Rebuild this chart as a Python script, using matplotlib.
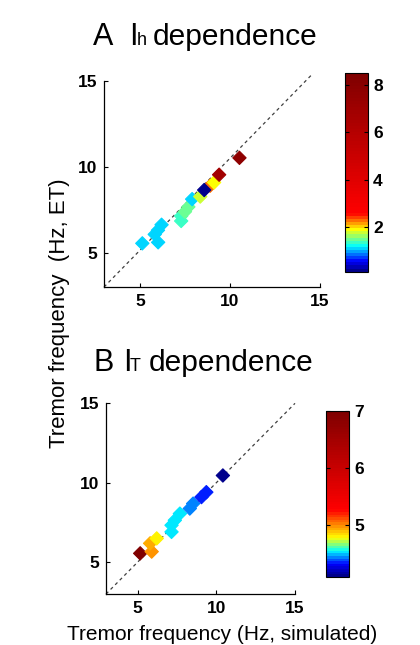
import numpy as np
import matplotlib
matplotlib.use("Agg")
import matplotlib.pyplot as plt
from matplotlib.colors import LinearSegmentedColormap, Normalize

plt.rcParams["font.family"] = ["Liberation Sans", "DejaVu Sans"]

# ─────────────────────────────────────────────
# DATA  (simulated vs ET tremor frequency, Hz)
# ─────────────────────────────────────────────
# A : Ih dependence
ih_sim   = [5.13, 6.01, 5.82, 6.00, 6.20, 7.29, 7.29, 7.50, 7.69, 7.90, 8.35, 8.90, 9.12, 9.40, 8.57, 10.53]
ih_et    = [5.54, 5.60, 6.06, 6.30, 6.62, 6.84, 7.13, 7.38, 7.66, 8.11, 8.26, 8.89, 9.08, 9.53, 8.64, 10.51]
ih_val   = [1.04, 1.04, 1.04, 1.04, 1.04, 1.32, 1.35, 1.42, 1.50, 1.08, 1.70, 2.20, 1.86, 6.80, 0.12, 7.80]
ih_range = [0.1, 8.5]
ih_cticks = [2, 4, 6, 8]

# B : IT dependence
it_sim   = [5.17, 5.90, 5.80, 6.22, 7.16, 7.16, 7.37, 7.69, 8.32, 8.53, 9.06, 9.37, 10.42]
it_et    = [5.56, 5.67, 6.19, 6.50, 6.91, 7.33, 7.64, 8.06, 8.38, 8.69, 9.10, 9.41, 10.46]
it_val   = [7.00, 4.98, 4.95, 4.79, 4.50, 4.50, 4.50, 4.50, 4.41, 4.41, 4.32, 4.32, 4.10]
it_range = [4.09, 7.0]
it_cticks = [5, 6, 7]

# identity reference lines (A's line runs a bit steeper in the original)
diag_a_x = [3, 14.6]
diag_a_y = [3, 15.4]
diag_b_x = [3, 15]
diag_b_y = [3, 15]

ticks = [5, 10, 15]
lims  = [3, 15]

# ─────────────────────────────────────────────
# COLORMAPS  (jet squeezed into the low end, then red -> dark red)
# ─────────────────────────────────────────────
def squeezed_jet(name, nodes):
    cols = [(0, 0, 0.55), (0, 0, 1), (0, 1, 1), (1, 1, 0), (1, 0, 0), (0.5, 0, 0)]
    return LinearSegmentedColormap.from_list(name, list(zip(nodes, cols)), N=64)

cmap_a = squeezed_jet("ih", [0.0, 0.045, 0.124, 0.207, 0.29, 1.0])
cmap_b = squeezed_jet("it", [0.0, 0.07, 0.15, 0.23, 0.40, 1.0])

# ─────────────────────────────────────────────
# FIGURE
# ─────────────────────────────────────────────
fig = plt.figure(figsize=(4.2, 6.45), dpi=100, facecolor="white")

TICK_FONT = dict(fontsize=12.5, fontweight="bold")


def panel(rect, crect, xs, ys, vals, vrange, cmap, cticks, dx, dy):
    ax = fig.add_axes(rect)
    norm = Normalize(vmin=vrange[0], vmax=vrange[1])
    ax.plot(dx, dy, linestyle=(0, (2.6, 2.6)), color="#404040", lw=0.9,
            clip_on=False, zorder=1)
    sc = ax.scatter(xs, ys, c=vals, cmap=cmap, norm=norm, marker="D", s=46,
                    linewidths=0.8, zorder=2)
    sc.set_edgecolors(cmap(norm(np.array(vals))))
    ax.set_xlim(lims)
    ax.set_ylim(lims)
    ax.set_xticks(ticks)
    ax.set_yticks(ticks)
    ax.set_xticklabels([str(t) for t in ticks], **TICK_FONT)
    ax.set_yticklabels([str(t) for t in ticks], **TICK_FONT)
    ax.tick_params(direction="in", length=3, width=0.8, pad=5)
    ax.spines[["top", "right"]].set_visible(False)
    for s in ["left", "bottom"]:
        ax.spines[s].set_linewidth(0.9)

    cax = fig.add_axes(crect)
    cb = fig.colorbar(sc, cax=cax)
    cb.set_ticks(cticks)
    cb.set_ticklabels([str(t) for t in cticks])
    cax.tick_params(direction="in", length=3, width=0.8, left=True, right=True,
                    pad=4, labelsize=12.5)
    for lbl in cax.get_yticklabels():
        lbl.set_fontweight("bold")
    cb.outline.set_linewidth(0.8)
    return ax


ax_a = panel([0.2476, 0.555, 0.514, 0.320], [0.8214, 0.5788, 0.054, 0.3076],
             ih_sim, ih_et, ih_val, ih_range, cmap_a, ih_cticks, diag_a_x, diag_a_y)
ax_b = panel([0.2524, 0.079, 0.450, 0.2957], [0.7755, 0.1059, 0.0555, 0.2569],
             it_sim, it_et, it_val, it_range, cmap_b, it_cticks, diag_b_x, diag_b_y)

# ── panel titles (letter, current name with small subscript letter) ─────────
def title(y, letter, sub, x_letter, x_i, x_sub, x_rest):
    fig.text(x_letter / 420, y, letter, fontsize=22, va="baseline")
    fig.text(x_i / 420, y, "I", fontsize=22, va="baseline")
    fig.text(x_sub / 420, y, sub, fontsize=13, va="baseline")
    fig.text(x_rest / 420, y, "dependence", fontsize=21.5, va="baseline")


title(1 - 45 / 645, "A", "h", 93, 129, 137, 153)
title(1 - 371 / 645, "B", "T", 93, 123, 130, 149)

# ── shared axis labels ──────────────────────────────────────────────────────
fig.text(60 / 420, 1 - 313 / 645, "Tremor frequency  (Hz, ET)",
         rotation=90, ha="center", va="center", fontsize=16)
fig.text(222 / 420, 5 / 645, "Tremor frequency (Hz, simulated)",
         ha="center", va="baseline", fontsize=15)

fig.savefig("out.png", dpi=100, facecolor="white")
